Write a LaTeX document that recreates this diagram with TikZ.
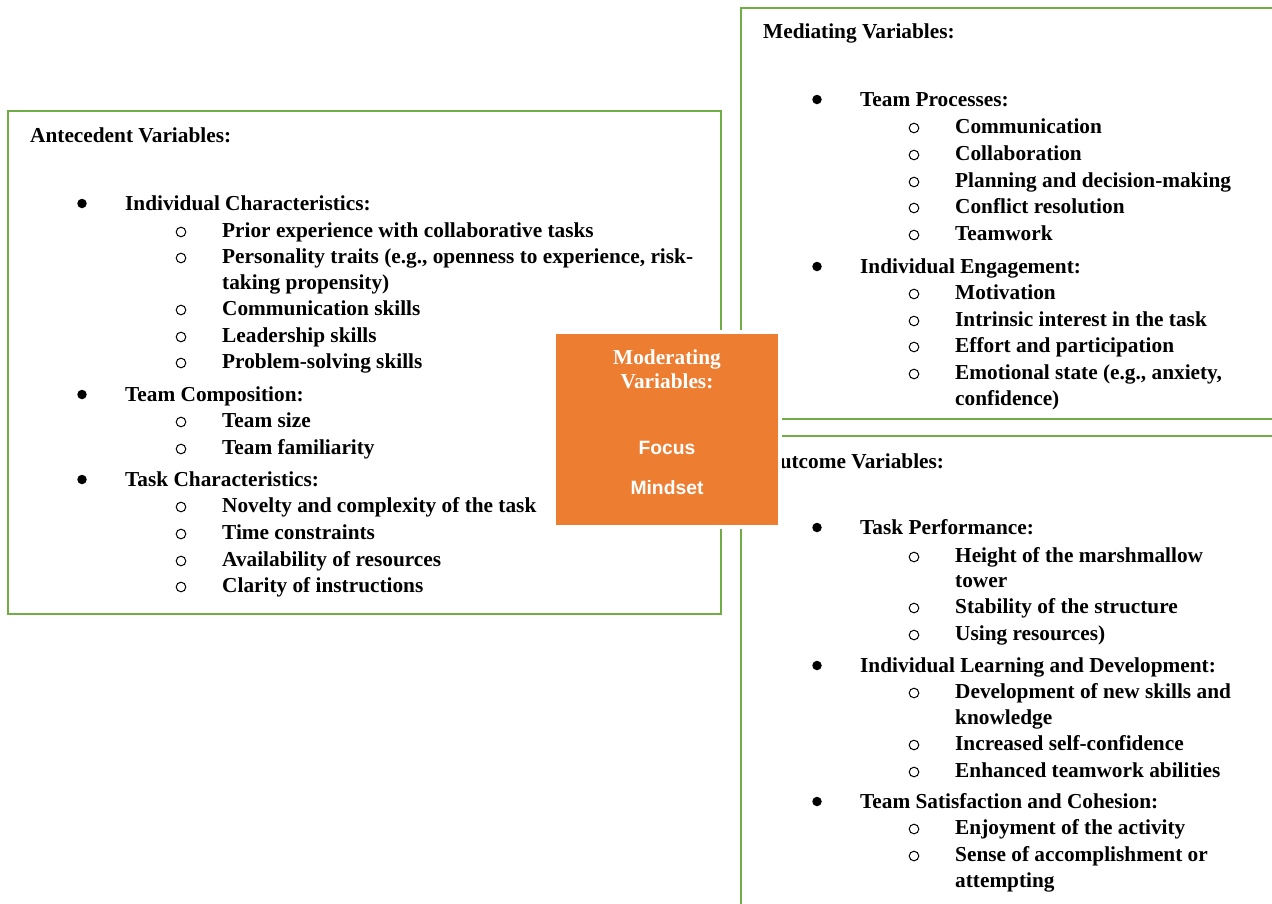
\documentclass[tikz,border=0pt]{standalone}
\usepackage{fontspec}
\setmainfont{Liberation Serif}
\newfontfamily\arialfont{Liberation Sans}
\definecolor{framegreen}{HTML}{70AD47}
\definecolor{modorange}{HTML}{ED7D31}

% list helpers: name, marker x, baseline y, text
\newcommand\listmain[4]{%
  \node[dot] (#1m) at (#2, #3-6.5) {};
  \node[txt] (#1) at (#2+43, #3) {#4};}
\newcommand\listsub[4]{%
  \node[ring] (#1m) at (#2, #3-5) {};
  \node[txt] (#1) at (#2+41, #3) {#4};}

\begin{document}
\begin{tikzpicture}[x=1pt,y=-1pt,
  frame/.style={draw=framegreen, line width=2.7pt, anchor=north west,
                inner sep=0pt, outer sep=0pt},
  txt/.style={anchor=base west, inner sep=0pt,
              font=\fontsize{21.3}{25}\selectfont\bfseries},
  dot/.style={circle, fill=black, inner sep=0pt, minimum size=9.5pt},
  ring/.style={circle, draw=black, line width=1pt, inner sep=0pt,
               minimum size=9.6pt},
  modbox/.style={fill=modorange, draw=white, line width=4pt,
                 minimum width=226pt, minimum height=195pt, inner sep=0pt},
  modhead/.style={anchor=base, inner sep=0pt, text=white,
                  font=\fontsize{21.3}{24}\selectfont\bfseries},
  modtxt/.style={anchor=base, inner sep=0pt, text=white,
                 font=\arialfont\fontsize{19.3}{22}\selectfont\bfseries}
]
\useasboundingbox (0,0) rectangle (1272,903);

% frames
\node[frame, minimum width=713pt, minimum height=503pt] (ante) at (8,111) {};
\node[frame, minimum width=560pt, minimum height=411pt] (medi) at (741,8) {};
\node[frame, minimum width=560pt, minimum height=500pt] (outc) at (741,436) {};

% antecedent variables
\node[txt] (anteh) at (30,142) {Antecedent Variables:};
\listmain{a1}{82}{210}{Individual Characteristics:}
\listsub{a11}{181}{237}{Prior experience with collaborative tasks}
\listsub{a12}{181}{263}{Personality traits (e.g., openness to experience, risk-}
\node[txt] (a12b) at (222,289) {taking propensity)};
\listsub{a13}{181}{315}{Communication skills}
\listsub{a14}{181}{342}{Leadership skills}
\listsub{a15}{181}{368}{Problem-solving skills}
\listmain{a2}{82}{401}{Team Composition:}
\listsub{a21}{181}{427}{Team size}
\listsub{a22}{181}{454}{Team familiarity}
\listmain{a3}{82}{486}{Task Characteristics:}
\listsub{a31}{181}{512}{Novelty and complexity of the task}
\listsub{a32}{181}{539}{Time constraints}
\listsub{a33}{181}{566}{Availability of resources}
\listsub{a34}{181}{592}{Clarity of instructions}

% mediating variables
\node[txt] (medih) at (763,38) {Mediating Variables:};
\listmain{m1}{817}{106}{Team Processes:}
\listsub{m11}{914}{133}{Communication}
\listsub{m12}{914}{160}{Collaboration}
\listsub{m13}{914}{187}{Planning and decision-making}
\listsub{m14}{914}{213}{Conflict resolution}
\listsub{m15}{914}{240}{Teamwork}
\listmain{m2}{817}{273}{Individual Engagement:}
\listsub{m21}{914}{299}{Motivation}
\listsub{m22}{914}{326}{Intrinsic interest in the task}
\listsub{m23}{914}{352}{Effort and participation}
\listsub{m24}{914}{379}{Emotional state (e.g., anxiety,}
\node[txt] (m24b) at (955,405) {confidence)};

% outcome variables
\node[txt] (outch) at (763,468) {Outcome Variables:};
\listmain{o1}{817}{534}{Task Performance:}
\listsub{o11}{914}{562}{Height of the marshmallow}
\node[txt] (o11b) at (955,587) {tower};
\listsub{o12}{914}{613}{Stability of the structure}
\listsub{o13}{914}{640}{Using resources)}
\listmain{o2}{817}{672}{Individual Learning and Development:}
\listsub{o21}{914}{698}{Development of new skills and}
\node[txt] (o21b) at (955,724) {knowledge};
\listsub{o22}{914}{750}{Increased self-confidence}
\listsub{o23}{914}{777}{Enhanced teamwork abilities}
\listmain{o3}{817}{808}{Team Satisfaction and Cohesion:}
\listsub{o31}{914}{834}{Enjoyment of the activity}
\listsub{o32}{914}{861}{Sense of accomplishment or}
\node[txt] (o32b) at (955,887) {attempting};

% moderating variables, laid over the frames
\node[modbox] (mod) at (667,429.5) {};
\node[modhead] (modh1) at (667,364) {Moderating};
\node[modhead] (modh2) at (667,388) {Variables:};
\node[modtxt] (focus) at (667,454) {Focus};
\node[modtxt] (mindset) at (667,494) {Mindset};
\end{tikzpicture}
\end{document}
